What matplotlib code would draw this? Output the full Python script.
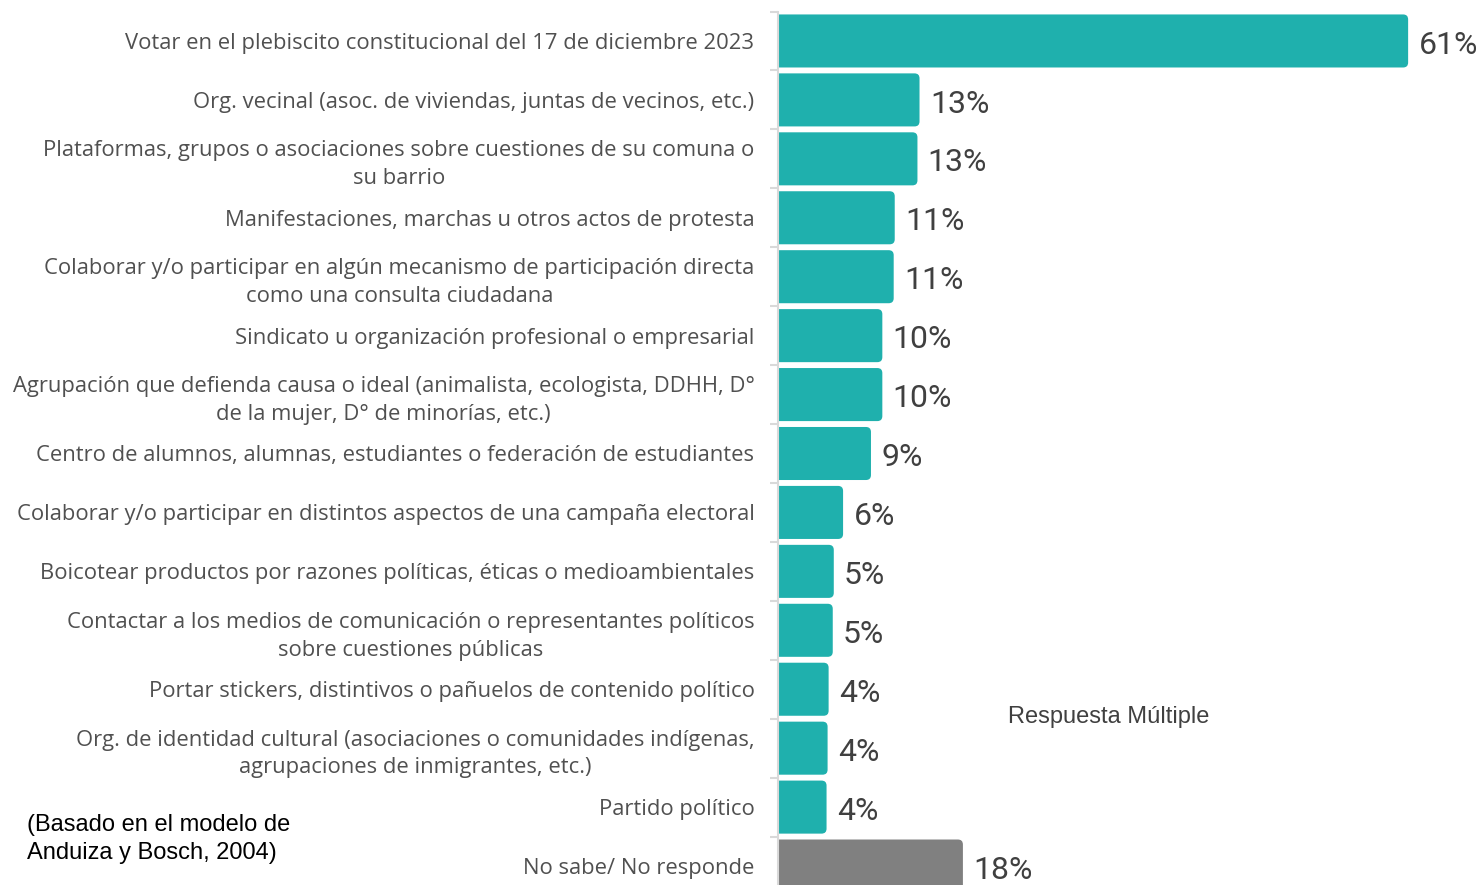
import matplotlib
matplotlib.use("Agg")
import matplotlib.pyplot as plt
from matplotlib.patches import FancyBboxPatch

categories = [
    "Votar en el plebiscito constitucional del 17 de diciembre 2023",
    "Org. vecinal (asoc. de viviendas, juntas de vecinos, etc.)",
    "Plataformas, grupos o asociaciones sobre cuestiones de su comuna o\nsu barrio",
    "Manifestaciones, marchas u otros actos de protesta",
    "Colaborar y/o participar en algún mecanismo de participación directa\ncomo una consulta ciudadana",
    "Sindicato u organización profesional o empresarial",
    "Agrupación que defienda causa o ideal (animalista, ecologista, DDHH, D°\nde la mujer, D° de minorías, etc.)",
    "Centro de alumnos, alumnas, estudiantes o federación de estudiantes",
    "Colaborar y/o participar en distintos aspectos de una campaña electoral",
    "Boicotear productos por razones políticas, éticas o medioambientales",
    "Contactar a los medios de comunicación o representantes políticos\nsobre cuestiones públicas",
    "Portar stickers, distintivos o pañuelos de contenido político",
    "Org. de identidad cultural (asociaciones o comunidades indígenas,\nagrupaciones de inmigrantes, etc.)",
    "Partido político",
    "No sabe/ No responde",
]
# bar lengths (%)
values = [61.0, 13.7, 13.5, 11.3, 11.2, 10.1, 10.1, 9.0, 6.3, 5.4, 5.3, 4.9, 4.8, 4.7, 17.9]
value_labels = ["61%", "13%", "13%", "11%", "11%", "10%", "10%", "9%", "6%", "5%", "5%",
                "4%", "4%", "4%", "18%"]

TEAL = "#1fb0ad"
GREY = "#808080"
TXT = "#505050"
colors = [TEAL] * 14 + [GREY]

W, H = 1483, 885
fig = plt.figure(figsize=(W / 100, H / 100), dpi=100)

# axes placed in pixels: axis line at x=778, rows of ~58.9 px
ax_left, ax_right = 778, W
ax_top, ax_bot = 11.5, 895.5
ax = fig.add_axes([ax_left / W, (H - ax_bot) / H, (ax_right - ax_left) / W, (ax_bot - ax_top) / H])

n = len(categories)
xmax = (ax_right - ax_left) / 10.33
ax.set_xlim(0, xmax)
ax.set_ylim(n - 0.5, -0.5)

px_x = 10.33      # px per x unit
px_y = 58.93      # px per y unit
r = 5 / px_x      # corner radius in x units
aspect = (5 / px_y) / r

bar_h = 0.9
for i, (v, c) in enumerate(zip(values, colors)):
    p = FancyBboxPatch((-2, i - bar_h / 2), v + 2, bar_h,
                       boxstyle=f"round,pad=0,rounding_size={r}",
                       mutation_aspect=aspect, fc=c, ec="none")
    ax.add_patch(p)
    ax.text(v + 1.0, i + 0.07, value_labels[i], va="center", ha="left",
            fontsize=23, color="#404040", family="Roboto")

for s in ["top", "right", "bottom"]:
    ax.spines[s].set_visible(False)
ax.spines["left"].set_color("#d9d9d9")
ax.spines["left"].set_linewidth(1.5)
ax.set_xticks([])

ax.set_yticks(range(n))
ax.set_yticklabels(categories, fontsize=15.8, color=TXT, family="Open Sans", linespacing=1.42)
for lab in ax.get_yticklabels():
    lab.set_multialignment("center")
ax.tick_params(axis="y", which="major", length=0, pad=17)
ax.set_yticks([i - 0.5 for i in range(n)], minor=True)
ax.tick_params(axis="y", which="minor", length=6, width=1.5, color="#d9d9d9")

fig.text(1008 / W, 1 - 717 / H, "Respuesta Múltiple", fontsize=17, color="#404040",
         family="Liberation Sans", va="center", ha="left")
fig.text(27 / W, 1 - 839 / H, "(Basado en el modelo de\nAnduiza y Bosch, 2004)", fontsize=17,
         color="black", family="Liberation Sans", va="center", ha="left", linespacing=1.3)

fig.savefig("out.png", dpi=100)
